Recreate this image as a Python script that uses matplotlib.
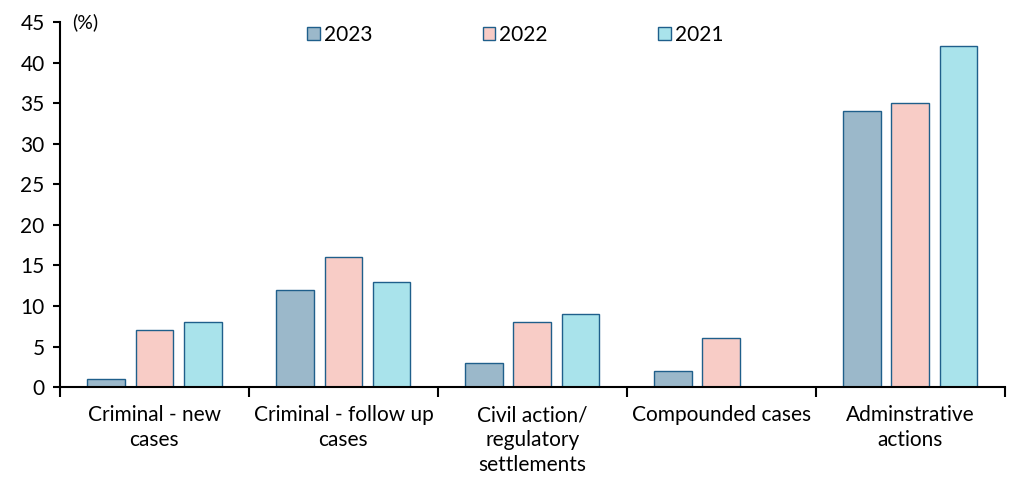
import numpy as np
import matplotlib
matplotlib.use("Agg")
import matplotlib.pyplot as plt

plt.rcParams['font.family'] = ['Lato', 'DejaVu Sans']

categories = ["Criminal - new\ncases", "Criminal - follow up\ncases",
              "Civil action/\nregulatory\nsettlements", "Compounded cases",
              "Adminstrative\nactions"]
years = ["2023", "2022", "2021"]
vals_2023 = [1, 12, 3, 2, 34]
vals_2022 = [7, 16, 8, 6, 35]
vals_2021 = [8, 13, 9, np.nan, 42]
colors = ["#9bb8ca", "#f8ccc6", "#a9e3eb"]
edge = "#1f5f8b"

fig = plt.figure(figsize=(10.16, 4.78), dpi=100)
ax = fig.add_axes([0.059, 0.19, 0.93, 0.764])

x = np.arange(len(categories))
width = 0.2
step = 0.255
for j, (vals, yr) in enumerate(zip([vals_2023, vals_2022, vals_2021], years)):
    ax.bar(x + (j - 1) * step, vals, width, color=colors[j], edgecolor=edge,
           linewidth=1.0, label=yr)

ax.set_xlim(-0.5, len(categories) - 0.5)
ax.set_ylim(0, 45)
ax.set_yticks(range(0, 46, 5))
ax.tick_params(axis='y', labelsize=15, length=5, width=1.5, direction='out', pad=6)

# category labels centered, ticks at boundaries
ax.set_xticks(np.arange(-0.5, len(categories), 1.0))
ax.set_xticklabels([])
ax.tick_params(axis='x', length=7, width=1.5, direction='out')
ax.set_xticks(x, minor=True)
ax.set_xticklabels(categories, minor=True, fontsize=15, linespacing=1.3)
ax.tick_params(axis='x', which='minor', length=0, pad=13)

for s in ['top', 'right']:
    ax.spines[s].set_visible(False)
for s in ['left', 'bottom']:
    ax.spines[s].set_linewidth(1.5)

ax.text(0.013, 1.0, "(%)", transform=ax.transAxes, fontsize=14, va='center', ha='left')

ax.legend(loc='upper center', bbox_to_anchor=(0.482, 1.044), ncol=3, frameon=False,
          fontsize=15, handlelength=0.6, handleheight=0.6, handletextpad=0.2,
          columnspacing=5.3)

fig.savefig("out.png", dpi=100)
